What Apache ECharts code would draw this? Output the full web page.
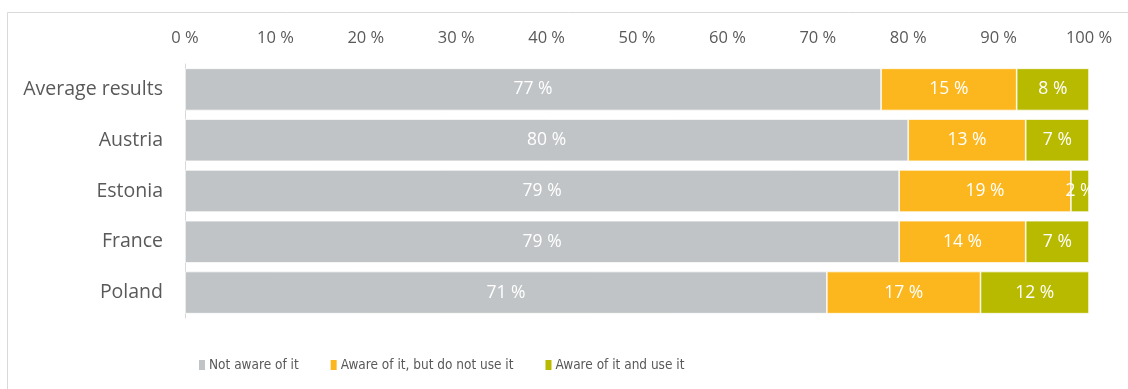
<!DOCTYPE html>
<html>
<head>
<meta charset="utf-8">
<script src="https://cdn.jsdelivr.net/npm/echarts@6/dist/echarts.min.js"></script>
<style>
html,body{margin:0;padding:0;background:#fff;}
#chart{width:1128px;height:389px;}
</style>
</head>
<body>
<div id="chart"></div>
<script>
const categories = ['Average results', 'Austria', 'Estonia', 'France', 'Poland'];
const seriesNames = ['Not aware of it', 'Aware of it, but do not use it', 'Aware of it and use it'];
const notAware = [77, 80, 79, 79, 71];
const awareNotUse = [15, 13, 19, 14, 17];
const awareUse = [8, 7, 2, 7, 12];
const tickLabels = ['0 %', '10 %', '20 %', '30 %', '40 %', '50 %', '60 %', '70 %', '80 %', '90 %', '100 %'];
const colors = ['#C0C4C6', '#FDB71E', '#B8BA00'];

const FONT = '"Open Sans"';
const LEGEND_FONT = '"Liberation Sans Narrow", "DejaVu Sans Condensed", "Open Sans"';
const chart = echarts.init(document.getElementById('chart'));
const values = [notAware, awareNotUse, awareUse];
chart.setOption({
  animation: false,
  textStyle: { fontFamily: FONT },
  graphic: [{
    type: 'rect', silent: true,
    shape: { x: 7.5, y: 12.5, width: 1200, height: 500 },
    style: { fill: 'none', stroke: '#D9D9D9', lineWidth: 1 }
  }],
  legend: {
    top: 353,
    left: 192,
    itemWidth: 8,
    itemHeight: 12,
    itemGap: 30,
    icon: 'rect',
    textStyle: { fontFamily: LEGEND_FONT, fontSize: 13.5, color: '#595959', padding: [0, 0, 0, -2] },
    data: seriesNames
  },
  grid: { left: 185, right: 39, top: 64, bottom: 71, containLabel: false },
  xAxis: {
    type: 'value', position: 'top', min: 0, max: 100, interval: 10,
    axisLine: { show: false }, axisTick: { show: false }, splitLine: { show: false },
    axisLabel: {
      margin: 17, fontFamily: FONT, fontSize: 16.5, color: '#595959',
      formatter: function (v) { return tickLabels[Math.round(v / 10)]; }
    }
  },
  yAxis: {
    type: 'category', inverse: true, data: categories,
    axisLine: { show: true, lineStyle: { color: '#D9D9D9' } },
    axisTick: { show: false },
    axisLabel: { margin: 22, fontFamily: FONT, fontSize: 19.5, color: '#595959' }
  },
  series: values.map(function (arr, i) {
    return {
      name: seriesNames[i], type: 'bar', stack: 'total',
      barCategoryGap: '17%',
      itemStyle: { color: colors[i], borderColor: '#FFFFFF', borderWidth: 0.7 },
      label: {
        show: true, position: 'inside', color: '#FFFFFF', fontFamily: FONT, fontSize: 17.5,
        formatter: function (p) { return p.value + ' %'; }
      },
      data: arr
    };
  })
});
</script>
</body>
</html>
